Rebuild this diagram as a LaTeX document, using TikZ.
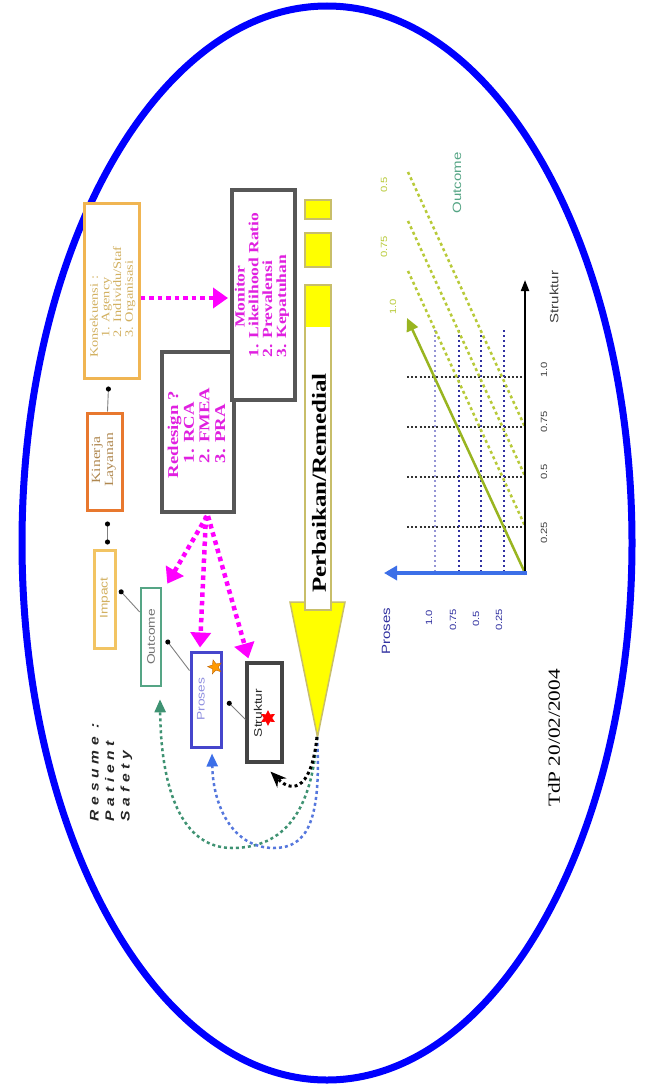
\documentclass[tikz,border=0pt]{standalone}
\usepackage{fontspec}
\setmainfont{Liberation Serif}
\newfontfamily\lsans{Liberation Sans}
\newfontfamily\lspaced[LetterSpace=30]{Liberation Sans}
\usepackage{graphicx}
\usetikzlibrary{arrows.meta,shapes.geometric,calc}
\newcommand\rottext[1]{\rotatebox{90}{\scalebox{1.25}[1]{#1}}}
\definecolor{ellblue}{HTML}{0000FF}
\definecolor{orA}{HTML}{F0B552}
\definecolor{orB}{HTML}{E8782E}
\definecolor{orC}{HTML}{F2C463}
\definecolor{txtA}{HTML}{D2B060}
\definecolor{txtB}{HTML}{B08850}
\definecolor{outc}{HTML}{55A585}
\definecolor{prosb}{HTML}{4646CC}
\definecolor{strk}{HTML}{444444}
\definecolor{mag}{HTML}{FF00FF}
\definecolor{magtxt}{HTML}{E020E0}
\definecolor{ylw}{HTML}{FFFF00}
\definecolor{khaki}{HTML}{C8BE6A}
\definecolor{lime}{HTML}{99B520}
\definecolor{limed}{HTML}{B8CA38}
\definecolor{axblue}{HTML}{3C6FE8}
\definecolor{navy}{HTML}{3030A0}
\definecolor{lav}{HTML}{9494D4}
\definecolor{dotblue}{HTML}{5577DD}
\definecolor{dotgreen}{HTML}{3E9272}
\begin{document}
\begin{tikzpicture}[x=1pt,y=-1pt,
  box/.style={draw, rectangle, inner sep=0pt, fill=white},
  lbl/.style={inner sep=0pt},
  magarrow/.style={draw=mag, line width=4.5pt, dash pattern=on 4.5pt off 4pt, -{Triangle[length=15pt,width=20pt]}},
  thinlink/.style={draw=gray, line width=0.9pt, -{Circle[length=5pt,color=black]}},
  griddot/.style={draw=black!80, line width=2.5pt, dash pattern=on 2pt off 2.2pt},
  bluegrid/.style={line width=2pt, dash pattern=on 2pt off 3pt},
  greendot/.style={draw=limed, line width=2.5pt, dash pattern=on 3pt off 3pt},
  curveblue/.style={draw=dotblue, line width=2.5pt, dash pattern=on 3pt off 3pt, -{Triangle[length=13pt,width=11pt,color=axblue]}},
  curvegreen/.style={draw=dotgreen, line width=2.5pt, dash pattern=on 3pt off 3pt, -{Triangle[length=13pt,width=11pt,color=dotgreen]}},
  curveblack/.style={draw=black, line width=3pt, dash pattern=on 3pt off 3pt, -{Stealth[length=16pt,width=13pt]}},
  chart/.style={inner sep=0pt, font=\lsans}
]
\useasboundingbox (0,0) rectangle (655,1089);
\fill[white] (0,0) rectangle (655,1089);

% outer ellipse
\draw[ellblue, line width=7pt] (327,543) ellipse [x radius=305pt, y radius=537pt];

% ---- boxes ----
\node[box, draw=orA, line width=3pt, minimum width=55pt, minimum height=175pt] (b1) at (111.5,290.5) {};
\node[box, draw=orB, line width=3pt, minimum width=35pt, minimum height=97pt] (b2) at (104.5,461.5) {};
\node[box, draw=orC, line width=3pt, minimum width=21pt, minimum height=98pt] (b3) at (104.5,599) {};
\node[box, draw=outc, line width=2.6pt, minimum width=20pt, minimum height=98pt] (outcome) at (151,637) {};
\node[box, draw=prosb, line width=3pt, minimum width=30pt, minimum height=95pt] (proses) at (206,699.5) {};
\node[box, draw=strk, line width=3.2pt, minimum width=35pt, minimum height=99pt] (struktur) at (264.5,712.5) {};
\node[box, draw=strk!90, line width=4pt, minimum width=72pt, minimum height=160pt] (b6) at (198,432) {};
\node[box, draw=strk!90, line width=4pt, minimum width=63pt, minimum height=210pt] (b7) at (263.5,295) {};

% ---- box texts ----
\node[lbl, text=txtA] (t1) at (113,302) {\rottext{\fontsize{11.5}{11.7}\selectfont\begin{tabular}{@{}l@{}}Konsekuensi :\\\hspace*{1.4em}1. Agency\\\hspace*{1.4em}2. Individu/Staf\\\hspace*{1.4em}3. Organisasi\end{tabular}}};
\node[lbl, text=txtB] (t2) at (104,460) {\rottext{\fontsize{12.5}{13}\selectfont\begin{tabular}{@{}c@{}}Kinerja\\Layanan\end{tabular}}};
\node[lbl, text=txtA] (t3) at (105,598) {\rottext{\lsans\fontsize{11}{11}\selectfont Impact}};
\node[lbl, text=black!55] (toutc) at (151,637) {\rottext{\lsans\fontsize{11}{11}\selectfont Outcome}};
\node[lbl, text=prosb!60] (tpros) at (201,699) {\rottext{\lsans\fontsize{11}{11}\selectfont Proses}};
\node[lbl, text=black!85] (tstrk) at (258,713) {\rottext{\lsans\fontsize{11}{11}\selectfont Struktur}};
\node[lbl, text=magtxt] (t6) at (198.5,433) {\rottext{\fontsize{15}{15.6}\selectfont\bfseries\begin{tabular}{@{}l@{}}Redesign ?\\\hspace*{0.8em}1. RCA\\\hspace*{0.8em}2. FMEA\\\hspace*{0.8em}3. PRA\end{tabular}}};
\node[lbl, text=magtxt] (t7) at (262.5,285) {\rottext{\fontsize{14}{13.7}\selectfont\bfseries\begin{tabular}{@{}l@{}}\hspace*{1.7em}Monitor\\1. Likelihood Ratio\\2. Prevalensi\\3. Kepatuhan\end{tabular}}};

% stars
\node[star, star points=5, star point ratio=2.3, fill=orange!80!yellow, draw=orange!70!black, line width=0.3pt, minimum size=15pt, inner sep=0pt, rotate=15] (starP) at (215,667) {};
\node[star, star points=6, star point ratio=1.9, fill=red, minimum size=16pt, inner sep=0pt] (starS) at (268,718) {};

% thin links
\draw[thinlink] ($(struktur.west)+(0,7)$) -- ($(proses.east)+(5,2)$);
\draw[thinlink] ($(proses.west)+(0,-29)$) -- ($(outcome.east)+(4,3)$);
\draw[thinlink] ($(outcome.west)+(0,-25)$) -- ($(b3.east)+(3,-9)$);
\draw[draw=gray, line width=0.9pt, {Circle[length=5pt,color=black]}-{Circle[length=5pt,color=black]}] ($(b3.north)+(3,-4)$) -- ($(b2.south)+(3,10)$);
\draw[thinlink] ($(b2.north)+(3,0)$) -- ($(b1.south)+(-3,7)$);

% magenta arrows
\draw[magarrow] ($(b1.east)+(0,7.5)$) -- ($(b7.west)+(-2,3)$);
\draw[magarrow] ($(b6.south)+(9,2)$) -- ($(outcome.north east)+(5,-3)$);
\draw[magarrow] ($(b6.south)+(8,2)$) -- ($(proses.north)+(-6,-3)$);
\draw[magarrow] ($(b6.south)+(10,2)$) -- ($(struktur.north west)+(3,-3)$);

% big yellow arrow
\fill[ylw] (305,200) rectangle (331,219);
\draw[khaki, line width=1.6pt] (305,200) rectangle (331,219);
\fill[ylw] (305,233) rectangle (331,267);
\draw[khaki, line width=1.6pt] (305,233) rectangle (331,267);
\filldraw[fill=ylw, draw=khaki, line width=1.5pt] (290,602) -- (345,602) -- (317.5,737) -- cycle;
\filldraw[fill=white, draw=khaki, line width=1.5pt] (305,285) rectangle (331,610);
\fill[ylw] (305.8,285.8) rectangle (330.2,327);
\coordinate (tipY) at (317,737);
\node[lbl] (tperb) at (319,483) {\rottext{\fontsize{20}{20}\selectfont\bfseries Perbaikan/Remedial}};

% curves back
\draw[curvegreen] (tipY) .. controls (312,810) and (285,848) .. (232,848) .. controls (182,848) and (161,790) .. ($(outcome.south)+(9,12)$);
\draw[curveblue] (tipY) .. controls (322,825) and (305,848) .. (274,848) .. controls (232,848) and (213,805) .. ($(proses.south)+(6,5)$);
\draw[curveblack] (tipY) .. controls (312,785) and (295,796) .. ($(struktur.south)+(6,8)$);

% resume text
\node[lbl, text=black!85] (tres) at (111,772) {\rottext{\lspaced\itshape\bfseries\fontsize{12.5}{15.5}\selectfont\begin{tabular}{@{}l@{}}Resume :\\Patient\\Safety\end{tabular}}};

% ---- chart ----
\coordinate (O) at (525,573);
\foreach \yy in {377,427,477,527} \draw[griddot] (407,\yy) -- (523,\yy);
\draw[bluegrid, draw=lav] (435,330) -- (435,571);
\foreach \xx in {459,481,504} \draw[bluegrid, draw=navy] (\xx,330) -- (\xx,571);
\draw[greendot] (408,172) -- (525,427);
\draw[greendot] (408,221) -- (525,476);
\draw[greendot] (408,271) -- (525,526);
\draw[lime, line width=2.5pt, -{Triangle[length=13pt,width=12pt]}] (O) -- (407,318);
\draw[black, line width=2pt, -{Triangle[length=11pt,width=8pt]}] ($(O)+(0,2)$) -- (525,280);
\draw[axblue, line width=3.5pt, -{Triangle[length=13pt,width=14pt]}] ($(O)+(1.5,0)$) -- (384,573);

\node[chart, text=black!75] (lstr) at (554,297) {\rottext{\fontsize{12}{12}\selectfont Struktur}};
\node[chart, text=navy] (lpro) at (386,631) {\rottext{\fontsize{12}{12}\selectfont Proses}};
\node[chart, text=outc] (lout) at (457,183) {\rottext{\fontsize{12}{12}\selectfont Outcome}};
\node[chart, text=black!75] (k1) at (544,533) {\rottext{\fontsize{9}{9}\selectfont 0.25}};
\node[chart, text=black!75] (k2) at (544,472) {\rottext{\fontsize{9}{9}\selectfont 0.5}};
\node[chart, text=black!75] (k3) at (544,422) {\rottext{\fontsize{9}{9}\selectfont 0.75}};
\node[chart, text=black!75] (k4) at (544,370) {\rottext{\fontsize{9}{9}\selectfont 1.0}};
\node[chart, text=navy] (p1) at (429,618) {\rottext{\fontsize{9}{9}\selectfont 1.0}};
\node[chart, text=navy] (p2) at (453,620) {\rottext{\fontsize{9}{9}\selectfont 0.75}};
\node[chart, text=navy] (p3) at (476,619) {\rottext{\fontsize{9}{9}\selectfont 0.5}};
\node[chart, text=navy] (p4) at (499,620) {\rottext{\fontsize{9}{9}\selectfont 0.25}};
\node[chart, text=limed] (g1) at (384,185) {\rottext{\fontsize{9}{9}\selectfont 0.5}};
\node[chart, text=limed] (g2) at (384,247) {\rottext{\fontsize{9}{9}\selectfont 0.75}};
\node[chart, text=limed] (g3) at (393,307) {\rottext{\fontsize{9}{9}\selectfont 1.0}};

% date
\node[lbl] (tdate) at (554,738) {\rottext{\fontsize{17}{17}\selectfont TdP 20/02/2004}};
\end{tikzpicture}
\end{document}
